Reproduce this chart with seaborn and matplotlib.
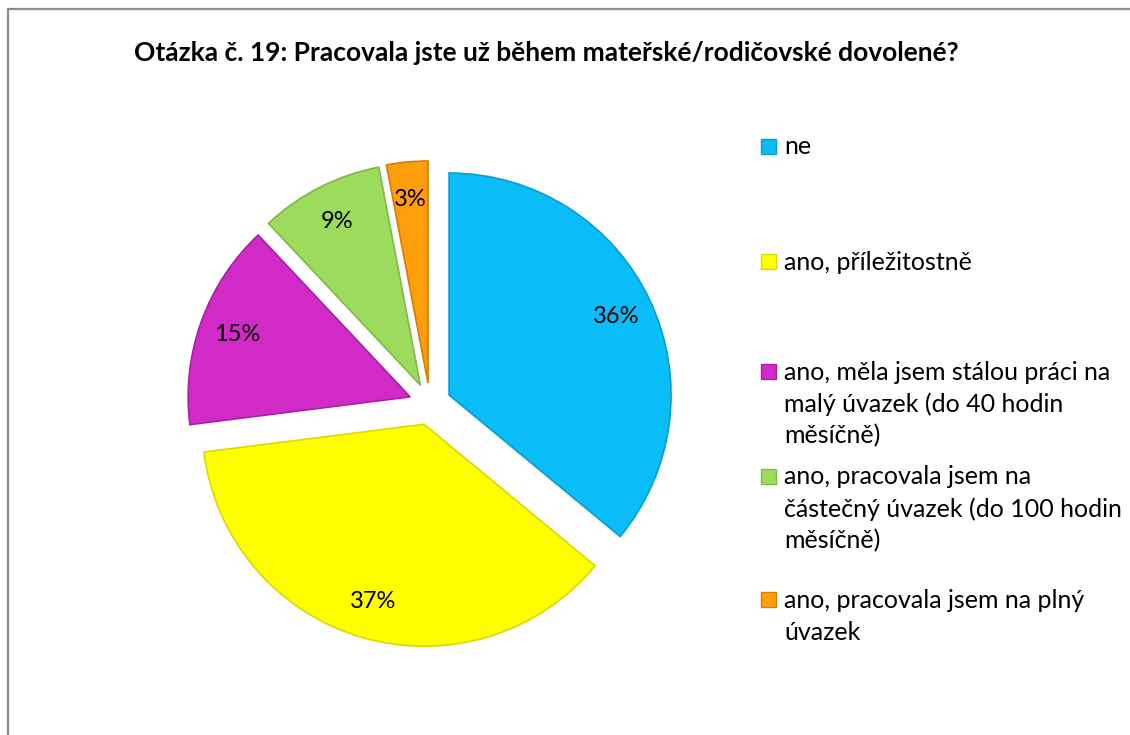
import numpy as np
import pandas as pd
import seaborn as sns
import matplotlib.pyplot as plt
from matplotlib.patches import Rectangle
from matplotlib.lines import Line2D

sns.set_theme(style="white")
plt.rcParams["font.family"] = ["Lato", "DejaVu Sans"]

# data
labels = [
    "ne",
    "ano, příležitostně",
    "ano, měla jsem stálou práci na\nmalý úvazek (do 40 hodin\nměsíčně)",
    "ano, pracovala jsem na\nčástečný úvazek (do 100 hodin\nměsíčně)",
    "ano, pracovala jsem na plný\núvazek",
]
shares = [36, 37, 15, 9, 3]
colors = ["#08BDF8", "#FFFF00", "#D12AC6", "#9CDB5B", "#FF9E0B"]
edges = ["#0A9DD0", "#DADA00", "#A8229F", "#7DBA48", "#D47F00"]

title = "Otázka č. 19: Pracovala jste už během mateřské/rodičovské dovolené?"

W, H = 1130, 735
fig = plt.figure(figsize=(W / 100, H / 100), dpi=100)
fig.patch.set_facecolor("white")

# pie centre (px) and radius (px)
cx, cy, rpx = 430, 404, 222
lim = 1.3
side = 2 * lim * rpx
ax = fig.add_axes([(cx - side / 2) / W, (H - cy - side / 2) / H, side / W, side / H])

wedges, texts, autotexts = ax.pie(
    shares,
    colors=colors,
    startangle=90,
    counterclock=False,
    explode=[0.095] * len(shares),
    autopct="%d%%",
    pctdistance=0.83,
    wedgeprops=dict(linewidth=1.2),
    textprops=dict(fontsize=17, color="black"),
)
for w, ec in zip(wedges, edges):
    w.set_edgecolor(ec)
ax.set_xlim(-lim, lim)
ax.set_ylim(-lim, lim)
ax.set_aspect("equal")
ax.axis("off")

fig.text(546 / W, 1 - 53 / H, title, ha="center", va="center",
         fontsize=19, fontweight="bold", color="black")

# legend, placed like the Excel original
leg_y = [147, 262, 372, 477, 600]
line_h = 32
for lab, c, ec, y in zip(labels, colors, edges, leg_y):
    fig.patches.append(Rectangle((761 / W, 1 - (y + 7) / H), 15 / W, 15 / H,
                                 transform=fig.transFigure, facecolor=c,
                                 edgecolor=ec, linewidth=1))
    for i, ln in enumerate(lab.split("\n")):
        fig.text(784 / W, 1 - (y + i * line_h) / H, ln, ha="left", va="center",
                 fontsize=18, color="black")

# frame lines (left and top only visible)
fig.add_artist(Line2D([7.5 / W, 7.5 / W], [0, 1 - 8.5 / H], transform=fig.transFigure,
                      color="#8C8C8C", linewidth=1.6))
fig.add_artist(Line2D([7.5 / W, 1], [1 - 8.5 / H, 1 - 8.5 / H], transform=fig.transFigure,
                      color="#8C8C8C", linewidth=1.6))

fig.savefig("out.png", dpi=100, facecolor="white")
